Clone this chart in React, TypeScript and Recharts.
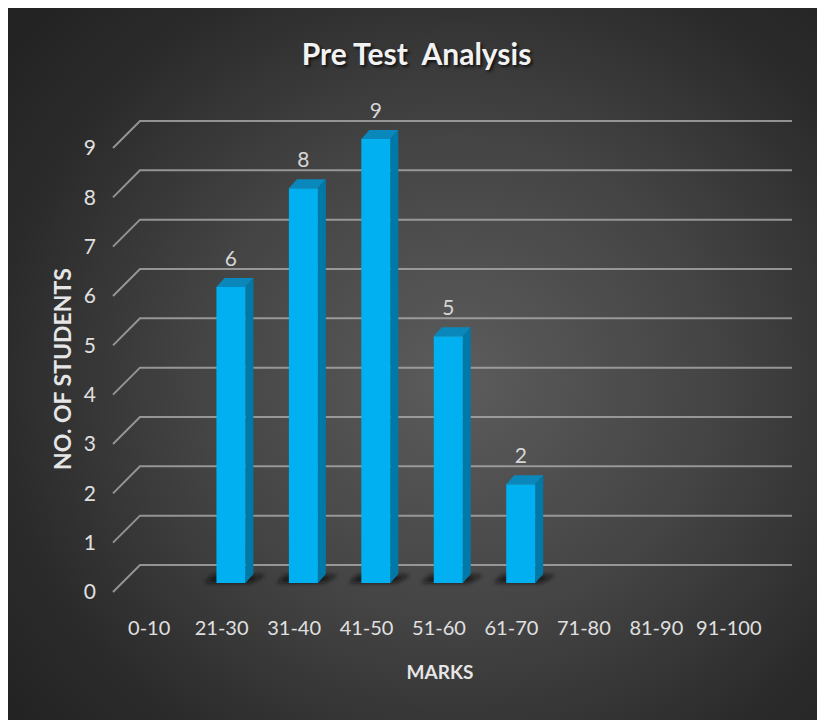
import React from "react"
import { BarChart, Bar, XAxis, YAxis, CartesianGrid, LabelList } from "recharts"

const categories = ["0-10", "21-30", "31-40", "41-50", "51-60", "61-70", "71-80", "81-90", "91-100"]
const students = [0, 6, 8, 9, 5, 2, 0, 0, 0]
const yTicks = [0, 1, 2, 3, 4, 5, 6, 7, 8, 9]

const data = categories.map((c, i) => ({ range: c, students: students[i] }))

const FONT = "Lato, 'Open Sans', sans-serif"
const W = 817
const H = 712
// 3d depth of the back wall, and where bars sit inside it
const DEPTH = 27
const BAR_OFF = 9
const BAR_DEPTH = 8

const FRONT = "#00b0f0"
const SIDE = "#0079a9"
const TOP = "#0a88bb"

function GridLine(props: any) {
  const { x1, y1, x2 } = props
  return (
    <path
      d={`M${x1},${y1} L${x1 + DEPTH},${y1 - DEPTH} L${x2 + DEPTH},${y1 - DEPTH}`}
      fill="none"
      stroke="#ababab"
      strokeOpacity={0.8}
      strokeWidth={2}
    />
  )
}

function Bar3D(props: any) {
  const { x, y, width, height, value } = props
  if (!value) return null
  const fx = x + BAR_OFF
  const fy = y - BAR_OFF
  const bottom = fy + height
  return (
    <g>
      <polygon
        points={`${fx - 12},${bottom} ${fx - 4},${bottom - 8} ${fx + width + BAR_DEPTH + 12},${bottom - 8} ${fx + width + 6},${bottom}`}
        fill="#0d0d0d"
        opacity={0.75}
        filter="url(#shadowBlur)"
      />
      <polygon
        points={`${fx},${fy} ${fx + BAR_DEPTH},${fy - BAR_DEPTH - 1} ${fx + width + BAR_DEPTH},${fy - BAR_DEPTH - 1} ${fx + width},${fy}`}
        fill={TOP}
      />
      <polygon
        points={`${fx + width},${fy} ${fx + width + BAR_DEPTH},${fy - BAR_DEPTH - 1} ${fx + width + BAR_DEPTH},${bottom - BAR_DEPTH - 1} ${fx + width},${bottom}`}
        fill={SIDE}
      />
      <rect x={fx} y={fy} width={width} height={height} fill={FRONT} />
    </g>
  )
}

function ValueLabel(props: any) {
  const { x, y, width, value } = props
  if (!value) return null
  return (
    <text
      x={x + width / 2 + BAR_OFF}
      y={y - 30}
      textAnchor="middle"
      fill="#d6d6d6"
      fontSize={21}
      fontFamily={FONT}
    >
      {value}
    </text>
  )
}

function XTick(props: any) {
  const { x, y, payload } = props
  return (
    <text x={x} y={y + 36} dy="0.35em" textAnchor="middle" fill="#e0e0e0" fontSize={20} fontFamily={FONT}>
      {payload.value}
    </text>
  )
}

function YTick(props: any) {
  const { x, y, payload } = props
  return (
    <text x={x} y={y} dy="0.35em" textAnchor="end" fill="#e0e0e0" fontSize={21} fontFamily={FONT}>
      {payload.value}
    </text>
  )
}

export default function App() {
  return (
    <div
      style={{
        position: "relative",
        width: W,
        height: H,
        background: "radial-gradient(ellipse 70% 75% at 55% 52%, #5c5c5c 0%, #444 45%, #2b2b2b 80%, #232323 100%)",
        fontFamily: FONT,
      }}
    >
      <div
        style={{
          position: "absolute",
          left: 0,
          width: W,
          top: 27,
          textAlign: "center",
          color: "#f2f2f2",
          fontSize: 30,
          fontWeight: 700,
          whiteSpace: "pre",
          textShadow: "2px 2px 3px rgba(0,0,0,0.7)",
        }}
      >
        {"Pre Test  Analysis"}
      </div>
      <div
        style={{
          position: "absolute",
          left: 54,
          top: 361,
          transform: "translate(-50%, -50%) rotate(-90deg)",
          color: "#e6e6e6",
          fontSize: 23,
          fontWeight: 700,
          whiteSpace: "nowrap",
        }}
      >
        NO. OF STUDENTS
      </div>
      <div
        style={{
          position: "absolute",
          left: 432,
          top: 663,
          transform: "translate(-50%, -50%)",
          color: "#e6e6e6",
          fontSize: 19,
          fontWeight: 700,
        }}
      >
        MARKS
      </div>
      <BarChart
        width={W}
        height={H}
        data={data}
        margin={{ top: 140, right: 60, bottom: 98, left: 65 }}
        style={{ position: "absolute", left: 0, top: 0 }}
      >
        <defs>
          <filter id="shadowBlur" x="-50%" y="-100%" width="200%" height="300%">
            <feGaussianBlur stdDeviation="2" />
          </filter>
        </defs>
        <CartesianGrid vertical={false} horizontal={(p: any) => <GridLine key={p.key} {...p} />} />
        <XAxis
          dataKey="range"
          height={30}
          axisLine={false}
          tickLine={false}
          tickSize={0}
          tickMargin={0}
          interval={0}
          tick={<XTick />}
        />
        <YAxis
          width={40}
          domain={[0, 9]}
          ticks={yTicks}
          interval={0}
          axisLine={false}
          tickLine={false}
          tickSize={0}
          tickMargin={17}
          tick={<YTick />}
        />
        <Bar dataKey="students" barSize={29} shape={<Bar3D />} isAnimationActive={false}>
          <LabelList dataKey="students" content={<ValueLabel />} />
        </Bar>
      </BarChart>
    </div>
  )
}
